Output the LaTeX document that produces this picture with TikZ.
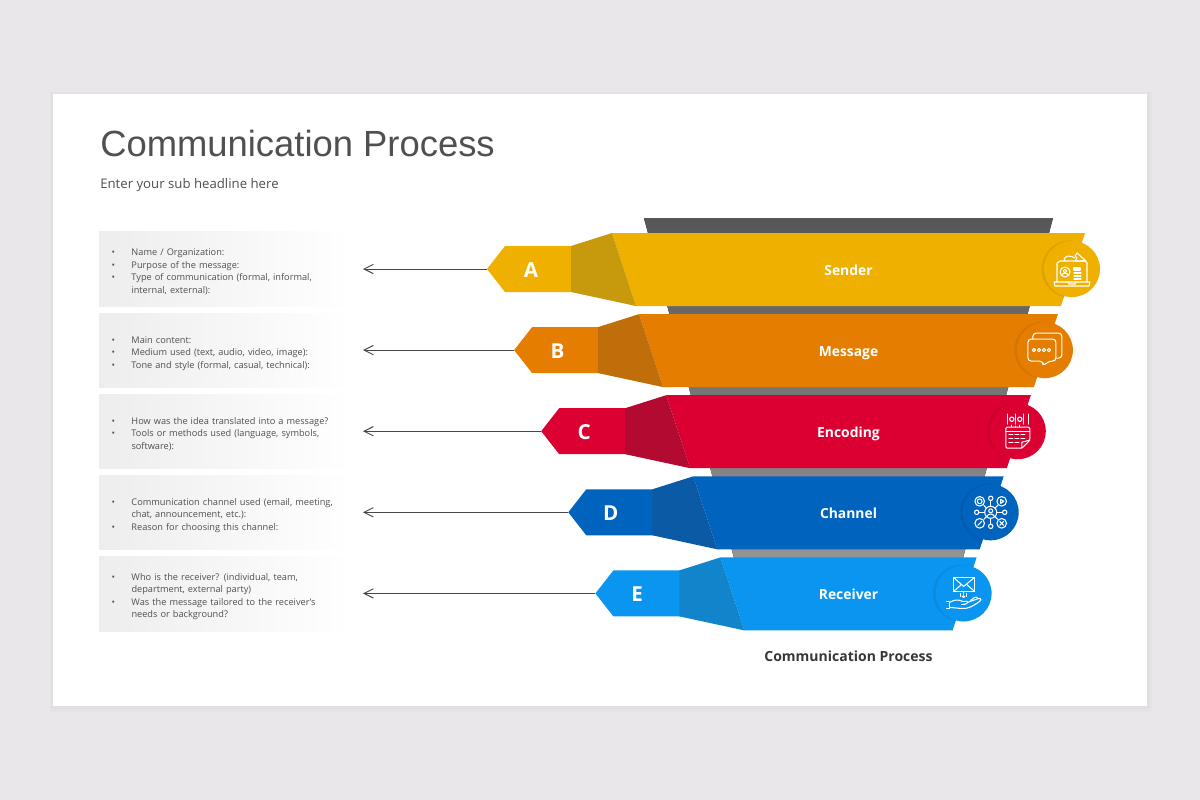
\documentclass[tikz,border=0pt]{standalone}
\usepackage{fontspec}
\usepackage{tikz}
\usetikzlibrary{arrows.meta, positioning, shadows}
\setmainfont{Open Sans}
\newfontfamily\titlefont{Liberation Sans}
\definecolor{pagegrey}{HTML}{E9E7E9}
\definecolor{inkgrey}{HTML}{505050}
\definecolor{bandA}{HTML}{EFB000}
\definecolor{foldA}{HTML}{C79A0E}
\definecolor{bandB}{HTML}{E57E00}
\definecolor{foldB}{HTML}{C06E0A}
\definecolor{bandC}{HTML}{DC0032}
\definecolor{foldC}{HTML}{B30A32}
\definecolor{bandD}{HTML}{0063BE}
\definecolor{foldD}{HTML}{0B5AA5}
\definecolor{bandE}{HTML}{0A96F0}
\definecolor{foldE}{HTML}{1284CC}
\newcommand{\bul}{\makebox[15pt][l]{\textbullet}}
\newcommand{\cont}{\hspace*{15pt}}
\tikzset{
  infobox/.style={left color=black!7, right color=white, minimum width=189.75pt, minimum height=56pt,
    inner xsep=9pt, inner ysep=0pt, text width=171pt, align=left, text=inkgrey,
    font=\fontsize{6.9}{9.4}\selectfont, execute at begin node={\rule{0pt}{9.2pt}}},
  pointer/.style={draw=black!72, line width=.7pt, -{Straight Barb[length=7pt,width=7pt]}},
  bandlabel/.style={anchor=base, text=white, font=\fontsize{10.4}{12}\selectfont\bfseries},
  tabletter/.style={anchor=base, text=white, font=\fontsize{15.5}{18}\selectfont\bfseries},
  badge/.style={circle, minimum size=42pt, inner sep=0pt,
    general shadow={shadow xshift=-1.5pt, shadow yshift=0pt, shadow scale=1.02, fill=black, opacity=.07}},
  icon/.style={draw=white, line width=.8pt, line cap=round, line join=round},
}

\begin{document}
\begin{tikzpicture}[x=0.75pt, y=-0.75pt]
    \useasboundingbox (0,0) rectangle (1200,800);
    \fill[pagegrey] (0,0) rectangle (1200,800);
    \fill[black, opacity=.015] (50,92) rectangle (1152,712);
    \fill[black, opacity=.015] (51,93) rectangle (1150,709);
    \fill[white] (53,94) rectangle (1147,706);

    \node[anchor=base west, inner sep=0pt, text=inkgrey, font=\titlefont\fontsize{27.3}{32}\selectfont] (title) at (100,156) {Communication Process};
    \node[anchor=base west, inner sep=0pt, text=inkgrey, font=\fontsize{9.9}{12}\selectfont] (subtitle) at (100,188) {Enter your sub headline here};

    % funnel behind the bands
    \fill[top color=black!66, bottom color=black!42] (644,218) -- (1053,218) -- (963,558) -- (734,558) -- cycle;

    \node[infobox] (boxA) at (225.5,269) {\bul Name / Organization:\\ \bul Purpose of the message:\\ \bul Type of communication (formal, informal,\\ \cont internal, external):};
    \node[infobox] (boxB) at (225.5,350.5) {\bul Main content:\\ \bul Medium used (text, audio, video, image):\\ \bul Tone and style (formal, casual, technical):};
    \node[infobox] (boxC) at (225.5,431.5) {\bul How was the idea translated into a message?\\ \bul Tools or methods used (language, symbols,\\ \cont software):};
    \node[infobox] (boxD) at (225.5,512.5) {\bul Communication channel used (email, meeting,\\ \cont chat, announcement, etc.):\\ \bul Reason for choosing this channel:};
    \node[infobox] (boxE) at (225.5,594) {\bul Who is the receiver? (individual, team,\\ \cont department, external party)\\ \bul Was the message tailored to the receiver's\\ \cont needs or background?};

    \foreach \bandname/\bandtag/\k in {Sender/A/0, Message/B/1, Encoding/C/2, Channel/D/3, Receiver/E/4} {
        \pgfmathsetmacro{\dx}{27.1*\k}
        \pgfmathsetmacro{\dy}{81.1*\k}
        \coordinate (tip\bandtag) at (487+\dx,269+\dy);
        \coordinate (end\bandtag) at (363,269+\dy);
        \begin{scope}[shift={(0,\dy)}]
            \fill[band\bandtag] (612+\dx,233) -- (1085-\dx,233) -- (1061-\dx,306) -- (636+\dx,306) -- cycle;
            \fill[band\bandtag] (487+\dx,269) -- (505+\dx,246) -- (571.5+\dx,246) -- (571.5+\dx,292) -- (505+\dx,292) -- cycle;
            \fill[fold\bandtag] (571+\dx,246) -- (612+\dx,233) -- (636+\dx,306) -- (571+\dx,292) -- cycle;
            \node[tabletter] (letter\bandtag) at (531+0.98*\dx,277.5) {\bandtag};
            \node[bandlabel] (label\bandtag) at (848.5,275) {\bandname};
            \node[badge, fill=band\bandtag] (badge\bandtag) at (1072-\dx,269) {};
        \end{scope}
        \draw[pointer] (tip\bandtag) -- (end\bandtag);
    }

    \node[anchor=base, text=black!78, font=\fontsize{10.5}{13}\selectfont\bfseries] (caption) at (848.5,661) {Communication Process};

    % laptop with paper plane
    \begin{scope}[shift={(badgeA.center)}]
        \draw[icon] (-15,13) -- (-15,-6) -- ++(3,-2) -- (13,-8) -- (15,-6) -- (15,13);
        \draw[icon] (-18,13) -- (18,13) -- (17,17) -- (-17,17) -- cycle;
        \draw[icon] (-4,13) -- (-3,15) -- (3,15) -- (4,13);
        \draw[icon] (-7,3) circle (5);
        \draw[icon] (-7,2) circle (1.8);
        \draw[icon] (-10,6) .. controls (-9,3.5) and (-5,3.5) .. (-4,6);
        \draw[icon] (2,-1) -- (8,-1) -- (8,1) -- (2,1) -- cycle;
        \draw[icon] (2,4) -- (9,4) (2,7) -- (9,7) (2,10) -- (9,10);
        \draw[icon] (-8,-8) .. controls (-8,-14) and (-2,-14) .. (3,-11);
        \draw[icon] (3,-13) -- (5,-16) -- (14,-8) -- (3,-8) -- (5,-11) -- cycle;
    \end{scope}

    % speech bubbles
    \begin{scope}[shift={(badgeB.center)}]
        \draw[icon, rounded corners=2.5pt] (-12,-11) -- (-12,-17) -- (17,-17) -- (17,8) -- (11,8);
        \draw[icon, rounded corners=2.5pt] (-17,-11) -- (11,-11) -- (11,11) -- (4,11) -- (-2,16) -- (-2,11) -- (-17,11) -- cycle;
        \foreach \dotx in {-11,-6,-1,4}
            \draw[icon] (\dotx,0) circle (1.7);
    \end{scope}

    % binary digits over a note sheet
    \begin{scope}[shift={(badgeC.center)}]
        \foreach \bitx in {-10,-2,6,11}
            \draw[icon] (\bitx,-17) -- (\bitx,-7);
        \draw[icon] (-6,-12) circle (2.2);
        \draw[icon] (2,-12) circle (2.2);
        \draw[icon] (-2,-5) -- (-2,-4) (-6,-6) -- (-6,-4) (2,-6) -- (2,-4);
        \draw[icon, rounded corners=1pt] (-12,-4) -- (12,-4) -- (12,9) -- (4,17) -- (-12,17) -- cycle;
        \draw[icon] (4,17) -- (4,11) -- (12,9);
        \draw[icon] (-12,0) -- (12,0);
        \foreach \rowy/\rowx in {3/-9, 3/-3, 3/3, 7/-9, 7/-3, 7/3, 11/-9, 11/-3}
            \draw[icon] (\rowx,\rowy) -- ++(4,0);
    \end{scope}

    % person in a network
    \begin{scope}[shift={(badgeD.center)}]
        \draw[icon] (0,0) circle (6);
        \draw[icon] (0,-1.5) circle (2);
        \draw[icon] (-3.5,4) .. controls (-3,1) and (3,1) .. (3.5,4);
        \foreach \satx/\saty in {-11/-11, 11/-11, -11/11, 11/11} {
            \draw[icon] (\satx,\saty) circle (4.8);
            \draw[icon] ({\satx*.36},{\saty*.36}) -- ({\satx*.62},{\saty*.62});
        }
        \draw[icon] (-11,-11) circle (2.4);
        \draw[icon] (10,-13) -- (13,-11) -- (10,-9) -- cycle;
        \draw[icon] (-13,13) -- (-9,9);
        \draw[icon] (9,9) -- (13,13) (9,13) -- (13,9);
        \foreach \satx/\saty in {0/-14, 0/14, -14/0, 14/0} {
            \draw[icon] (\satx,\saty) circle (2.2);
            \draw[icon] ({\satx*.44},{\saty*.44}) -- ({\satx*.84},{\saty*.84});
        }
    \end{scope}

    % envelope over an open hand
    \begin{scope}[shift={(badgeE.center)}]
        \draw[icon] (-10,-16) -- (11,-16) -- (11,-2) -- (-10,-2) -- cycle;
        \draw[icon] (-10,-16) -- (0,-7) -- (11,-16);
        \draw[icon] (-10,-2) -- (-2,-9) (11,-2) -- (3,-9);
        \draw[icon] (0,-1) -- (0,4) (-3,0) -- (-3,3) (3,0) -- (3,3);
        \draw[icon] (-1.5,2.5) -- (0,4) -- (1.5,2.5);
        \draw[icon] (-17,8) -- (-14,8) -- (-14,15) -- (-17,15);
        \draw[icon] (-14,9) .. controls (-9,6) and (-5,6) .. (-1,8) -- (4,8) .. controls (5,10) and (3,11) .. (-2,11);
        \draw[icon] (4,9) -- (15,5) .. controls (18,5) and (18,7) .. (16,8) .. controls (9,13) and (4,16) .. (-3,15) -- (-14,14);
        \draw[icon] (7,7) -- (11,4) .. controls (12,3) and (14,4) .. (14,5);
    \end{scope}
\end{tikzpicture}
\end{document}
